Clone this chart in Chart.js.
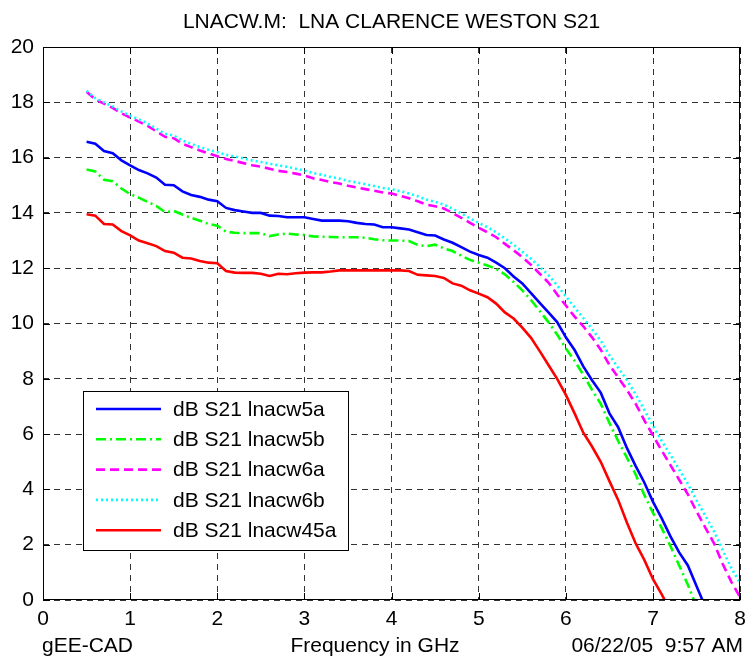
<!DOCTYPE html>
<html>
<head>
<meta charset="utf-8">
<script src="https://cdn.jsdelivr.net/npm/chart.js@4.4.1/dist/chart.umd.min.js"></script>
<style>
html,body{margin:0;padding:0;background:#fff;}
#wrap{width:753px;height:658px;}
</style>
</head>
<body>
<div id="wrap"><canvas id="c" width="753" height="658"></canvas></div>
<script>
const titleText = "LNACW.M:  LNA CLARENCE WESTON S21";
const xAxisTitle = "Frequency in GHz";
const leftFooter = "gEE-CAD";
const rightFooter = "06/22/05  9:57 AM";
const xTicks = [0,1,2,3,4,5,6,7,8];
const yTicks = [0,2,4,6,8,10,12,14,16,18,20];

const freq = [0.5,0.6,0.7,0.8,0.9,1.0,1.1,1.2,1.3,1.4,1.5,1.6,1.7,1.8,1.9,2.0,2.1,2.2,2.3,2.4,2.5,2.6,2.7,2.8,2.9,3.0,3.1,3.2,3.3,3.4,3.5,3.6,3.7,3.8,3.9,4.0,4.1,4.2,4.3,4.4,4.5,4.6,4.7,4.8,4.9,5.0,5.1,5.2,5.3,5.4,5.5,5.6,5.7,5.8,5.9,6.0,6.1,6.2,6.3,6.4,6.5,6.6,6.7,6.8,6.9,7.0,7.1,7.2,7.3,7.4,7.5,7.6,7.7,7.8,7.9,8.0];

const lnacw5a = [16.57,16.5,16.24,16.16,15.9,15.72,15.55,15.43,15.28,15.02,15.0,14.78,14.65,14.58,14.48,14.42,14.18,14.1,14.05,14.0,14.0,13.9,13.89,13.84,13.84,13.84,13.78,13.72,13.72,13.72,13.7,13.64,13.6,13.58,13.48,13.48,13.44,13.4,13.3,13.2,13.18,13.04,12.92,12.76,12.6,12.48,12.38,12.2,12.0,11.7,11.45,11.1,10.75,10.4,10.05,9.5,9.04,8.45,7.95,7.5,6.75,6.25,5.5,4.85,4.25,3.55,2.95,2.3,1.72,1.25,0.5,-0.25,null,null,null,null];
const lnacw5b = [15.57,15.5,15.2,15.15,14.88,14.68,14.55,14.4,14.25,14.03,14.07,13.94,13.82,13.72,13.6,13.54,13.32,13.28,13.27,13.27,13.27,13.16,13.22,13.25,13.22,13.2,13.15,13.14,13.13,13.12,13.12,13.12,13.1,13.05,13.01,13.0,13.0,12.98,12.84,12.8,12.85,12.72,12.62,12.45,12.3,12.2,12.1,11.97,11.78,11.5,11.2,10.85,10.45,10.05,9.6,9.1,8.65,8.15,7.6,7.1,6.4,5.75,5.15,4.55,3.8,3.15,2.6,1.95,1.25,0.55,-0.25,null,null,null,null,null];
const lnacw6a = [18.38,18.1,17.95,17.8,17.6,17.45,17.3,17.15,16.95,16.75,16.7,16.5,16.38,16.26,16.15,16.05,15.95,15.88,15.8,15.72,15.67,15.6,15.52,15.48,15.42,15.35,15.25,15.19,15.12,15.06,14.98,14.92,14.86,14.8,14.74,14.7,14.62,14.53,14.42,14.3,14.24,14.16,14.0,13.82,13.64,13.46,13.3,13.12,12.88,12.65,12.4,12.12,11.8,11.48,11.05,10.65,10.25,9.9,9.5,9.05,8.5,8.05,7.6,7.1,6.5,5.95,5.4,4.88,4.35,3.82,3.2,2.62,2.05,1.3,0.65,0.1];
const lnacw6b = [18.42,18.15,18.0,17.85,17.67,17.52,17.38,17.24,17.05,16.86,16.8,16.62,16.5,16.38,16.28,16.2,16.1,16.04,15.97,15.9,15.84,15.78,15.72,15.67,15.6,15.53,15.44,15.38,15.3,15.24,15.16,15.1,15.04,14.97,14.9,14.86,14.78,14.7,14.6,14.48,14.4,14.3,14.15,13.98,13.8,13.64,13.48,13.3,13.08,12.85,12.6,12.34,12.05,11.75,11.38,10.98,10.58,10.2,9.8,9.38,8.85,8.4,7.95,7.45,6.88,6.3,5.75,5.25,4.72,4.2,3.6,3.05,2.48,1.8,1.15,0.6];
const lnacw45a = [13.95,13.9,13.6,13.58,13.34,13.19,13.0,12.9,12.8,12.62,12.56,12.38,12.35,12.26,12.2,12.18,11.9,11.84,11.83,11.83,11.8,11.72,11.8,11.78,11.82,11.84,11.85,11.85,11.88,11.92,11.92,11.92,11.92,11.92,11.92,11.92,11.92,11.9,11.76,11.74,11.72,11.65,11.45,11.37,11.2,11.08,10.95,10.72,10.4,10.18,9.85,9.48,9.0,8.5,8.0,7.42,6.75,6.05,5.55,5.0,4.3,3.62,2.8,2.05,1.45,0.75,0.2,-0.4,null,null,null,null,null,null,null,null];

const seriesNames = ["dB S21 lnacw5a","dB S21 lnacw5b","dB S21 lnacw6a","dB S21 lnacw6b","dB S21 lnacw45a"];
const seriesValues = [lnacw5a, lnacw5b, lnacw6a, lnacw6b, lnacw45a];
const seriesColors = ["#0000ff","#00ff00","#ff00ff","#00ffff","#ff0000"];
const seriesDash = [[], [10,4,2,4], [9,5], [2,3], []];

const FONT = "'Liberation Sans', Arial, Helvetica, sans-serif";
const FS = 21;

const datasets = seriesValues.map((vals, i) => ({
  label: seriesNames[i],
  data: freq.map((f, k) => ({x: f, y: vals[k]})),
  borderColor: seriesColors[i],
  backgroundColor: seriesColors[i],
  borderDash: seriesDash[i],
  borderWidth: 2.6,
  pointRadius: 0,
  tension: 0,
  fill: false,
  spanGaps: false,
  clip: 0,
  order: seriesValues.length - i
}));

const decor = {
  id: 'decor',
  afterDatasetsDraw(chart) {
    const ctx = chart.ctx;
    const a = chart.chartArea;
    const xs = chart.scales.x, ys = chart.scales.y;
    ctx.save();
    // frame
    ctx.strokeStyle = '#000';
    ctx.lineWidth = 1;
    ctx.setLineDash([]);
    ctx.strokeRect(Math.round(a.left)+0.5, Math.round(a.top)+0.5, Math.round(a.right-a.left)-1, Math.round(a.bottom-a.top)-1);
    // inward ticks
    const tl = 7;
    ctx.beginPath();
    xTicks.forEach(v => {
      const p = Math.round(xs.getPixelForValue(v)) + 0.5;
      ctx.moveTo(p, a.bottom); ctx.lineTo(p, a.bottom - tl);
      ctx.moveTo(p, a.top); ctx.lineTo(p, a.top + tl);
    });
    yTicks.forEach(v => {
      const p = Math.round(ys.getPixelForValue(v)) + 0.5;
      ctx.moveTo(a.left, p); ctx.lineTo(a.left + tl, p);
      ctx.moveTo(a.right, p); ctx.lineTo(a.right - tl, p);
    });
    ctx.stroke();
    // legend
    const bx = 83, by = 391, bw = 265, bh = 159;
    ctx.fillStyle = '#fff';
    ctx.fillRect(bx, by, bw, bh);
    ctx.strokeRect(bx + 0.5, by + 0.5, bw, bh);
    ctx.font = FS + 'px ' + FONT;
    ctx.textBaseline = 'middle';
    ctx.textAlign = 'left';
    chart.data.datasets.forEach((ds, i) => {
      const yy = by + 18 + i * 30.3;
      ctx.strokeStyle = ds.borderColor;
      ctx.lineWidth = 2.6;
      ctx.setLineDash(ds.borderDash);
      ctx.beginPath();
      ctx.moveTo(96, yy); ctx.lineTo(161, yy);
      ctx.stroke();
      ctx.setLineDash([]);
      ctx.fillStyle = '#000';
      ctx.fillText(ds.label, 173, yy + 1);
    });
    // title and footer texts
    ctx.fillStyle = '#000';
    ctx.font = FS + 'px ' + FONT;
    ctx.textBaseline = 'middle';
    ctx.textAlign = 'center';
    ctx.fillText(titleText, (a.left + a.right) / 2, 22);
    const fy = 646;
    ctx.textAlign = 'left';
    ctx.fillText(leftFooter, a.left - 1, fy);
    ctx.textAlign = 'center';
    ctx.fillText(xAxisTitle, 375, fy);
    ctx.textAlign = 'right';
    ctx.fillText(rightFooter, 743, fy);
    ctx.restore();
  }
};

new Chart(document.getElementById('c'), {
  type: 'line',
  data: { datasets },
  options: {
    responsive: false,
    animation: false,
    devicePixelRatio: 1,
    layout: { padding: { left: 0, right: 6, top: 47, bottom: 0 } },
    plugins: {
      legend: { display: false },
      tooltip: { enabled: false },
      title: { display: false }
    },
    scales: {
      x: {
        type: 'linear',
        min: 0, max: 8,
        afterBuildTicks(scale) { scale.ticks = xTicks.map(v => ({value: v})); },
        afterFit(scale) { scale.height = 58; },
        ticks: { color: '#000', font: { family: FONT, size: FS }, padding: 7, maxRotation: 0, autoSkip: false },
        grid: { color: '#333', lineWidth: 1, drawTicks: false },
        border: { display: false, dash: [6,5] }
      },
      y: {
        type: 'linear',
        min: 0, max: 20,
        afterBuildTicks(scale) { scale.ticks = yTicks.map(v => ({value: v})); },
        afterFit(scale) { scale.width = 43; },
        ticks: { color: '#000', font: { family: FONT, size: FS }, padding: 9, autoSkip: false },
        grid: { color: '#333', lineWidth: 1, drawTicks: false },
        border: { display: false, dash: [6,5] }
      }
    }
  },
  plugins: [decor]
});
</script>
</body>
</html>
